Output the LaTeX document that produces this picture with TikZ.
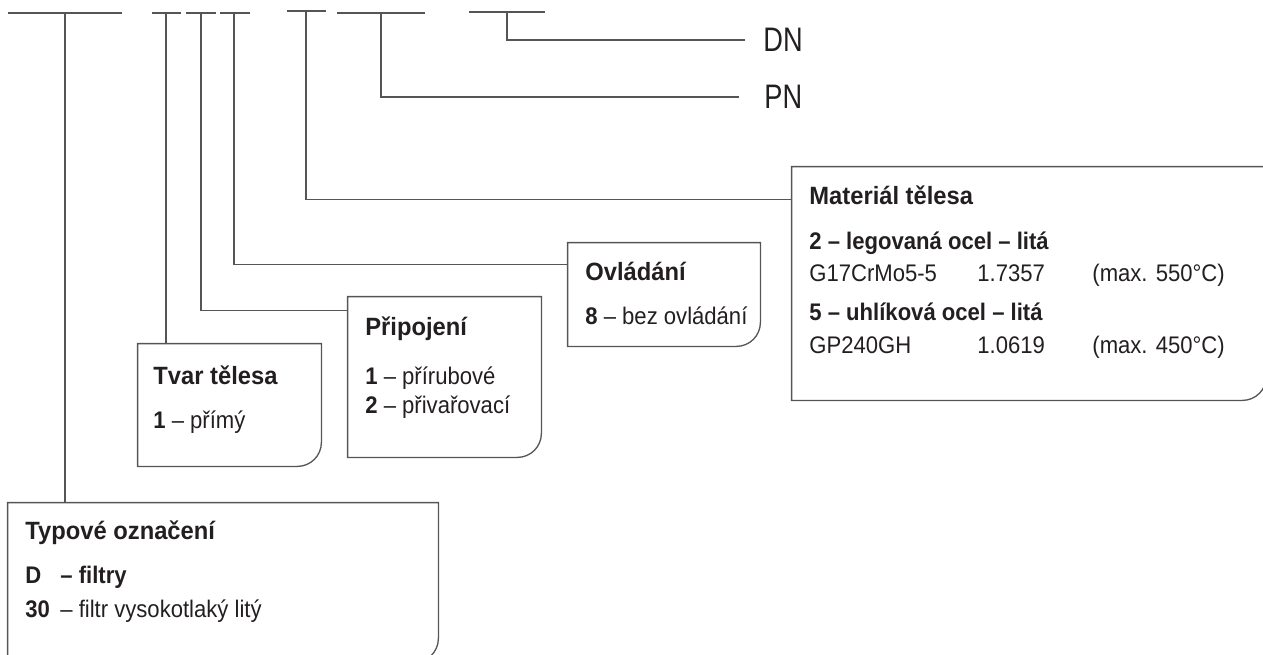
\documentclass[tikz,border=0pt]{standalone}
\usepackage{fontspec}
\setmainfont{Liberation Sans}
\newfontfamily\narrowsans[FakeStretch=0.8]{Liberation Sans}
\newfontfamily\bodysans[FakeStretch=0.92]{Liberation Sans}
\newfontfamily\headsans[FakeStretch=0.95]{Liberation Sans}
\usetikzlibrary{fit}
\definecolor{linegray}{HTML}{555555}
\definecolor{textgray}{HTML}{231F20}
\tikzset{
  code/.style={draw=linegray, line width=0.75pt},
  boxline/.style={draw=linegray, line width=0.65pt},
  tagbox/.style={inner sep=0pt, draw=none},
  title/.style={anchor=base west, inner sep=0pt, text=textgray, font=\headsans\fontsize{12.5}{14}\selectfont\bfseries},
  entry/.style={anchor=base west, inner sep=0pt, text=textgray, font=\bodysans\fontsize{12}{14}\selectfont},
  tag/.style={anchor=west, inner sep=0pt, text=textgray, font=\narrowsans\fontsize{17}{19}\selectfont},
}
\begin{document}
\begin{tikzpicture}[x=0.5pt,y=-0.5pt]
  \useasboundingbox (0,0) rectangle (1263,654);
  % code positions
  \foreach \a/\b/\y in {8/122/13, 152/181/13, 186/216/13, 220/250/13, 287/326/11, 469/545/12}
    \draw[code] (\a,\y) -- (\b,\y);
  \draw[code, line width=1pt] (337,13) -- (425,13);
  \coordinate (typ-c) at (65,13);
  \coordinate (tvar-c) at (166,13);
  \coordinate (pri-c) at (201,13);
  \coordinate (ovl-c) at (234,13);
  \coordinate (mat-c) at (306,11);
  \coordinate (pn-c) at (381,13);
  \coordinate (dn-c) at (507,12);

  % boxes
  \node[tagbox, fit={(8,503) (438,662)}] (typ) {};
  \node[tagbox, fit={(138,344) (321,466)}] (tvar) {};
  \node[tagbox, fit={(348,297) (541,457)}] (pri) {};
  \node[tagbox, fit={(568,243) (760,346)}] (ovl) {};
  \node[tagbox, fit={(792,167) (1266,400)}] (mat) {};
  \foreach \b in {typ,tvar,pri,ovl,mat}
    \draw[boxline] (\b.north west) -- (\b.north east) -- ([yshift=12pt]\b.south east)
      arc[start angle=0, end angle=-90, radius=12pt] -- (\b.south west) -- cycle;

  \node[tag] (dn) at (763,40) {DN};
  \node[tag] (pn) at (764,97) {PN};

  % connectors
  \draw[code] (typ-c) -- (typ-c |- typ.north);
  \draw[code] (tvar-c) -- (tvar-c |- tvar.north);
  \draw[code] (pri-c) |- ([yshift=-7pt]pri.north west);
  \draw[code] (ovl-c) |- ([yshift=-11pt]ovl.north west);
  \draw[code] (mat-c) |- ([yshift=-16.5pt]mat.north west);
  \draw[code] (pn-c) |- ([xshift=-12.5pt]pn.west);
  \draw[code] (dn-c) |- ([xshift=-9pt]dn.west);

  % texts
  \node[title] (typ-t) at (25,539) {Typové označení};
  \node[entry] (typ-a) at (25,583) {\textbf{\makebox[17.5pt][l]{D}– filtry}};
  \node[entry] (typ-b) at (25,617) {\textbf{\makebox[17.5pt][l]{30}}– filtr vysokotlaký litý};

  \node[title] (tvar-t) at (153,384) {Tvar tělesa};
  \node[entry] (tvar-a) at (153,428) {\textbf{1} – přímý};

  \node[title] (pri-t) at (365,335) {Připojení};
  \node[entry] (pri-a) at (365,384) {\textbf{1} – přírubové};
  \node[entry] (pri-b) at (365,413) {\textbf{2} – přivařovací};

  \node[title] (ovl-t) at (585,280) {Ovládání};
  \node[entry] (ovl-a) at (585,324) {\textbf{8} – bez ovládání};

  \node[title] (mat-t) at (809,204) {Materiál tělesa};
  \node[entry] (mat-a) at (809,249) {\textbf{2 – legovaná ocel – litá}};
  \node[entry] (mat-a1) at (809,281) {G17CrMo5-5};
  \node[entry] (mat-a2) at (977,281) {1.7357};
  \node[entry] (mat-a3) at (1092,281) {(max. 550°C)};
  \node[entry] (mat-b) at (809,320) {\textbf{5 – uhlíková ocel – litá}};
  \node[entry] (mat-b1) at (809,353) {GP240GH};
  \node[entry] (mat-b2) at (977,353) {1.0619};
  \node[entry] (mat-b3) at (1092,353) {(max. 450°C)};
\end{tikzpicture}
\end{document}
